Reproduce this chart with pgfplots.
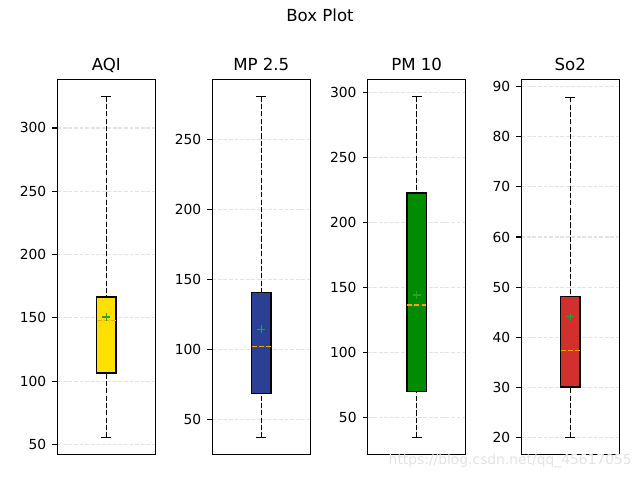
\documentclass[border=0pt]{standalone}
\usepackage{fontspec}
\setmainfont{DejaVu Sans}
\usepackage{pgfplots}
\pgfplotsset{compat=1.18}
\usepgfplotslibrary{statistics}
\definecolor{cyel}{HTML}{FFE000}
\definecolor{cblue}{HTML}{2B3F94}
\definecolor{cgreen}{HTML}{008B00}
\definecolor{cred}{HTML}{D32F2F}
\definecolor{cmed}{HTML}{FFA500}
\definecolor{cmean}{HTML}{2CA02C}
\definecolor{cgrid}{HTML}{E3E3E3}
\pgfplotsset{
  every axis title/.style={at={(0.5,1)}, anchor=base, yshift=6bp, inner sep=0pt, font=\fontsize{12}{14}\selectfont},
  bx/.style={
    scale only axis, width=70.56bp, height=270.2bp,
    anchor=south west,
    xmin=0.5, xmax=1.5, xtick=\empty,
    ymajorgrids, grid style={cgrid, dash pattern=on 2.8bp off 1.2bp, line width=0.8bp},
    tick align=outside, ytick pos=left, major tick length=3.5bp,
    tick style={black, line width=0.8bp},
    axis line style={line width=0.8bp},
    tick label style={font=\fontsize{10}{12}\selectfont},
    /pgf/number format/assume math mode=true,
    yticklabel style={/pgf/number format/fixed, xshift=-1bp},
    boxplot/draw direction=y,
    boxplot/box extend=0.2,
    boxplot/every box/.style={draw=black, line width=1bp},
    boxplot/every median/.style={cmed, line width=1bp, dash pattern=on 3.7bp off 1.6bp},
    boxplot/draw/lower whisker/.code={%
      \draw[black, line width=1bp, dash pattern=on 3.7bp off 1.6bp]
        (boxplot box cs:\pgfplotsboxplotvalue{lower whisker},0.5) --
        (boxplot box cs:\pgfplotsboxplotvalue{lower quartile},0.5);
      \draw[black, line width=1bp]
        (boxplot box cs:\pgfplotsboxplotvalue{lower whisker},0.25) --
        (boxplot box cs:\pgfplotsboxplotvalue{lower whisker},0.75);
    },
    boxplot/draw/upper whisker/.code={%
      \draw[black, line width=1bp, dash pattern=on 3.7bp off 1.6bp]
        (boxplot box cs:\pgfplotsboxplotvalue{upper whisker},0.5) --
        (boxplot box cs:\pgfplotsboxplotvalue{upper quartile},0.5);
      \draw[black, line width=1bp]
        (boxplot box cs:\pgfplotsboxplotvalue{upper whisker},0.25) --
        (boxplot box cs:\pgfplotsboxplotvalue{upper whisker},0.75);
    },
  },
  meanmark/.style={only marks, mark=+, mark size=3bp, cmean, line width=1bp, mark options={solid}},
}
\begin{document}
\begin{tikzpicture}
\path (0,0) rectangle (460.8bp,345.6bp);
\node[anchor=base, inner sep=0pt, font=\fontsize{12}{14}\selectfont] at (230.4bp,329.8bp) {Box Plot};
% AQI
\begin{axis}[bx, at={(41.26bp,18.36bp)}, title={AQI}, ymin=42, ymax=338.5, ytick={50,100,150,200,250,300}]
\addplot[boxplot prepared={draw position=1, lower whisker=55.4, lower quartile=106.5, median=147.7, upper quartile=166.4, upper whisker=324.8}, fill=cyel, draw=black] coordinates {};
\addplot[meanmark] coordinates {(1,150.6)};
\end{axis}
% MP 2.5
\begin{axis}[bx, at={(152.86bp,18.36bp)}, title={MP 2.5}, ymin=24.8, ymax=293, ytick={50,100,150,200,250}]
\addplot[boxplot prepared={draw position=1, lower whisker=36.9, lower quartile=68.6, median=101.9, upper quartile=140.6, upper whisker=280.6}, fill=cblue, draw=black] coordinates {};
\addplot[meanmark] coordinates {(1,114.3)};
\end{axis}
% PM 10
\begin{axis}[bx, at={(264.74bp,18.36bp)}, title={PM 10}, ymin=21.6, ymax=310, ytick={50,100,150,200,250,300}]
\addplot[boxplot prepared={draw position=1, lower whisker=34.6, lower quartile=70, median=136.4, upper quartile=222.5, upper whisker=296.6}, fill=cgreen, draw=black] coordinates {};
\addplot[meanmark] coordinates {(1,144.1)};
\end{axis}
% So2
\begin{axis}[bx, at={(375.34bp,18.36bp)}, title={So2}, ymin=16.6, ymax=91.5, ytick={20,30,40,50,60,70,80,90}]
\addplot[boxplot prepared={draw position=1, lower whisker=20, lower quartile=30.1, median=37.4, upper quartile=48.1, upper whisker=87.9}, fill=cred, draw=black] coordinates {};
\addplot[meanmark] coordinates {(1,44.1)};
\end{axis}
\node[anchor=east, inner sep=0pt, text=gray!22, font=\fontsize{10}{12}\selectfont] at (455bp,13.5bp) {https://blog.csdn.net/qq\_45617055};
\end{tikzpicture}
\end{document}
